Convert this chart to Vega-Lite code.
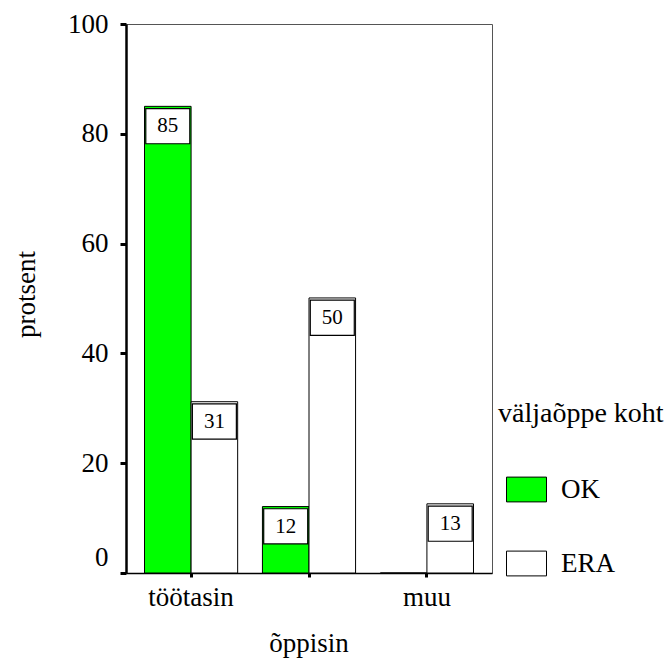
{
  "$schema": "https://vega.github.io/schema/vega-lite/v6.json",
  "autosize": "none",
  "width": 366,
  "height": 549,
  "padding": {"left": 126, "top": 24, "right": 174, "bottom": 86},
  "background": "white",
  "config": {
    "font": "Times New Roman, Liberation Serif, serif",
    "view": {"stroke": "#555555", "strokeWidth": 1},
    "axis": {"grid": false, "labelFont": "Times New Roman, Liberation Serif, serif", "titleFont": "Times New Roman, Liberation Serif, serif", "labelColor": "black", "titleColor": "black", "titleFontWeight": "normal"},
    "legend": {"labelFont": "Times New Roman, Liberation Serif, serif", "titleFont": "Times New Roman, Liberation Serif, serif", "labelColor": "black", "titleColor": "black", "titleFontWeight": "normal"}
  },
  "data": {
    "values": [
      {"cat": "töötasin", "grp": "OK", "value": 85},
      {"cat": "töötasin", "grp": "ERA", "value": 31.2},
      {"cat": "õppisin", "grp": "OK", "value": 12.1},
      {"cat": "õppisin", "grp": "ERA", "value": 50.1},
      {"cat": "muu", "grp": "OK", "value": 0},
      {"cat": "muu", "grp": "ERA", "value": 12.6}
    ]
  },
  "encoding": {
    "x": {
      "field": "cat", "type": "nominal", "sort": ["töötasin", "õppisin", "muu"],
      "scale": {"paddingInner": 0.21, "paddingOuter": 0.157},
      "axis": {
        "title": null, "labelAngle": 0, "labelFontSize": 27, "labelPadding": 7,
        "labelExpr": "datum.value == 'õppisin' ? ['', 'õppisin'] : datum.value",
        "labelLineHeight": 46, "labelBaseline": "top",
        "domainColor": "black", "domainWidth": 1.5, "tickColor": "black", "tickSize": 4, "tickWidth": 3
      }
    },
    "xOffset": {"field": "grp", "type": "nominal", "sort": ["OK", "ERA"], "scale": {"paddingInner": 0, "paddingOuter": 0}},
    "y": {
      "field": "value", "type": "quantitative",
      "scale": {"domain": [0, 100], "nice": false},
      "axis": {
        "title": "protsent", "values": [0, 20, 40, 60, 80, 100],
        "labelFontSize": 27, "labelPadding": 12,
        "labelOffset": {"condition": {"test": "datum.value === 0", "value": -16}, "value": 0},
        "titleFontSize": 27, "titleAngle": 270, "titleX": -100, "titleY": 270, "titleAlign": "center", "titleBaseline": "middle",
        "domainColor": "black", "domainWidth": 2.5, "tickColor": "black", "tickSize": 6, "tickWidth": 3
      }
    }
  },
  "layer": [
    {
      "mark": {"type": "bar", "stroke": "black", "strokeWidth": 1},
      "encoding": {
        "color": {
          "field": "grp", "type": "nominal", "sort": ["OK", "ERA"],
          "scale": {"domain": ["OK", "ERA"], "range": ["#00ff00", "#ffffff"]},
          "legend": {
            "title": "väljaõppe koht", "orient": "none", "legendX": 372, "legendY": 376,
            "titleFontSize": 28, "labelFontSize": 27, "titlePadding": 41,
            "symbolType": "M-1,-0.62H1V0.62H-1Z", "symbolSize": 1600,
            "symbolStrokeColor": "black", "symbolStrokeWidth": 1, "symbolOffset": 8,
            "labelOffset": 14, "rowPadding": 39
          }
        }
      }
    },
    {
      "transform": [{"filter": "datum.value > 0"}],
      "mark": {"type": "point", "shape": "M-1,0.1H1V1.7H-1Z", "size": 1936, "filled": true, "fill": "white", "stroke": "black", "strokeWidth": 1.2, "opacity": 1}
    },
    {
      "transform": [{"filter": "datum.value > 0"}],
      "mark": {"type": "text", "baseline": "middle", "align": "center", "dy": 20, "fontSize": 21, "font": "Times New Roman, Liberation Serif, serif", "color": "black"},
      "encoding": {"text": {"field": "value", "type": "quantitative", "format": ".0f"}}
    }
  ]
}
